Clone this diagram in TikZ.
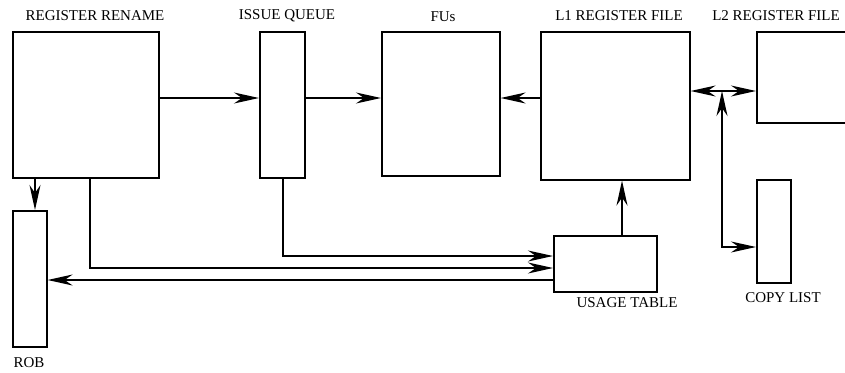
\documentclass[tikz,border=0pt]{standalone}
\usepackage{fontspec}
\setmainfont{Liberation Serif}
\usetikzlibrary{arrows.meta}
\begin{document}
\begin{tikzpicture}[x=1pt,y=-1pt,
  box/.style={draw, line width=1.6pt, inner sep=0pt, anchor=north west},
  lbl/.style={font=\fontsize{15}{17}\selectfont, inner sep=0pt},
  arr/.style={line width=1.4pt, -{Stealth[length=25pt,width=11pt,inset=8pt]}},
  barr/.style={line width=1.4pt, {Stealth[length=25pt,width=11pt,inset=8pt]}-{Stealth[length=25pt,width=11pt,inset=8pt]}}]
\useasboundingbox (0,0) rectangle (845,372);
% boxes
\node[box, minimum width=146pt, minimum height=146pt] (ren) at (12,31) {};
\node[box, minimum width=34pt, minimum height=136pt] (rob) at (12,210) {};
\node[box, minimum width=45pt, minimum height=146pt] (iq) at (259,31) {};
\node[box, minimum width=118pt, minimum height=144pt] (fu) at (381,31) {};
\node[box, minimum width=149pt, minimum height=148pt] (l1) at (540,31) {};
\node[box, minimum width=110pt, minimum height=91pt] (l2) at (756,31) {};
\node[box, minimum width=34pt, minimum height=103pt] (cl) at (756,179) {};
\node[box, minimum width=103pt, minimum height=56pt] (ut) at (553,235) {};
% labels
\node[lbl] (tren) at (95,16) {REGISTER RENAME};
\node[lbl] (tiq) at (287,16) {ISSUE QUEUE};
\node[lbl] (tfu) at (443,17) {FUs};
\node[lbl] (tl1) at (619,16) {L1 REGISTER FILE};
\node[lbl] (tl2) at (776,16) {L2 REGISTER FILE};
\node[lbl] (tut) at (627,303) {USAGE TABLE};
\node[lbl] (tcl) at (783,298) {COPY LIST};
\node[lbl] (trob) at (29,363) {ROB};
% connectors
\draw[arr] (ren.east |- 0,98) -- (iq.west |- 0,98);
\draw[arr] (iq.east |- 0,98) -- (fu.west |- 0,98);
\draw[arr] (l1.west |- 0,98) -- (fu.east |- 0,98);
\draw[arr] (ren.south -| 35,0) -- (rob.north -| 35,0);
\draw[arr] (ren.south -| 90,0) -- (90,268) -- (ut.west |- 0,268);
\draw[arr] (iq.south -| 283,0) -- (283,256) -- (ut.west |- 0,256);
\draw[arr] (ut.west |- 0,280) -- (rob.east |- 0,280);
\draw[arr] (ut.north -| 622,0) -- (l1.south -| 622,0);
\coordinate (j) at (722,91);
\coordinate (jc) at (722,247);
\draw[arr] (j) -- (l1.east |- j);
\draw[arr] (j) -- (l2.west |- j);
\draw[barr] (j) -- (jc) -- (cl.west |- jc);
\end{tikzpicture}
\end{document}
